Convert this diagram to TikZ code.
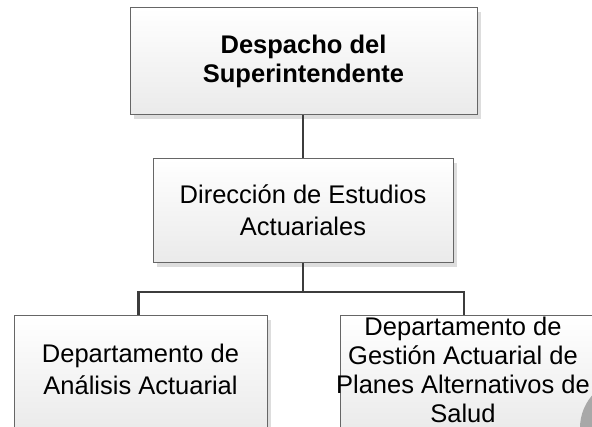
\documentclass[tikz,border=0pt]{standalone}
\usepackage{fontspec}
\setmainfont{Liberation Sans}
\usetikzlibrary{shadows}
\definecolor{boxborder}{HTML}{666666}
\definecolor{boxfill}{HTML}{EAEAEA}
\definecolor{shadowgray}{HTML}{DDDDDD}
\definecolor{linecol}{HTML}{3C3C3C}
\definecolor{circlegray}{HTML}{A8A8A8}
\tikzset{
  boxfont/.style={font=\fontsize{25.5}{29}\selectfont},
  widefont/.style={font=\fontsize{25.5}{31.5}\selectfont},
  orgbox/.style={draw=boxborder, line width=1pt, top color=white, bottom color=boxfill,
    align=center, boxfont, inner sep=0pt,
    drop shadow={shadow xshift=4pt, shadow yshift=-4pt, fill=shadowgray, opacity=1}},
  link/.style={draw=linecol, line width=2.5pt}
}
\begin{document}
\begin{tikzpicture}[x=1pt, y=-1pt]
  \clip (0,0) rectangle (592,427);
  \fill[white] (0,0) rectangle (592,427);
  \coordinate (jn) at (303,292);
  \node[orgbox, minimum width=347pt, minimum height=107pt,
        font=\fontsize{25.5}{29}\selectfont\bfseries] (sup) at (303.5,61.5)
        {Despacho del\\Superintendente};
  \node[orgbox, minimum width=300pt, minimum height=104pt,
        label={[yshift=1pt, align=center, widefont]center:{Dirección de Estudios\\Actuariales}}]
        (dir) at (303,211) {};
  \node[orgbox, minimum width=253pt, minimum height=116pt,
        label={[yshift=4.5pt, align=center, widefont]center:{Departamento de\\Análisis Actuarial}}]
        (ana) at (140.5,374) {};
  \node[orgbox, minimum width=256pt, minimum height=116pt,
        label={[xshift=-5pt, yshift=4pt, align=center, boxfont]center:{Departamento de\\Gestión Actuarial de\\Planes Alternativos de\\Salud}}]
        (ges) at (468,374) {};
  \draw[link] (sup.south -| dir.north) -- (dir.north);
  \draw[link] (dir.south) -- (jn);
  \draw[link] (jn) -| ([xshift=-2pt]ana.north);
  \draw[link] (jn) -| ([xshift=-4pt]ges.north);
  \fill[circlegray] (630,428) circle (50);
\end{tikzpicture}
\end{document}
